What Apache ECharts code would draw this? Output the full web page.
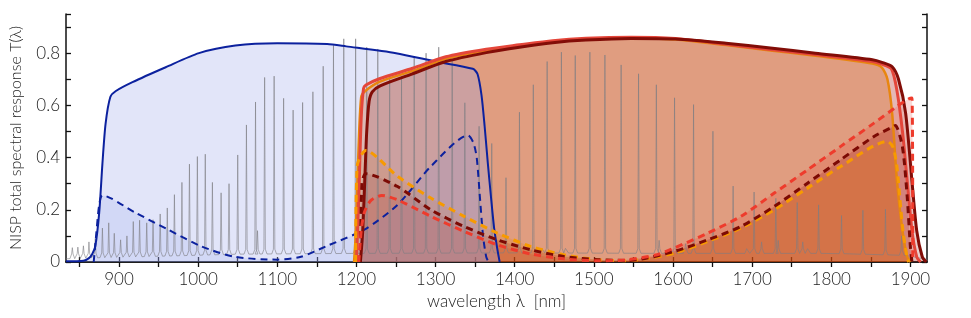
<!DOCTYPE html>
<html>
<head>
<meta charset="utf-8">
<script src="https://cdn.jsdelivr.net/npm/echarts@6/dist/echarts.min.js"></script>
<style>
html,body{margin:0;padding:0;background:#fff;}
#chart{width:971px;height:318px;}
</style>
</head>
<body>
<div id="chart"></div>
<script>
// ---- axis ticks / labels ----
const xLabels = [900, 1000, 1100, 1200, 1300, 1400, 1500, 1600, 1700, 1800, 1900];
const xTicks = [850, 900, 950, 1000, 1050, 1100, 1150, 1200, 1250, 1300, 1350, 1400, 1450, 1500, 1550, 1600, 1650, 1700, 1750, 1800, 1850, 1900];

// ---- blue grism: first order (solid) and second order (dashed) ----
const blueSolid = [[833,0.003],[855,0.005],[862,0.015],[866,0.03],[870,0.06],[875,0.19],[879,0.376],[883,0.529],[889,0.632],[896,0.655],[917,0.689],[959,0.746],[1001,0.80],[1047,0.829],[1100,0.838],[1163,0.835],[1187,0.826],[1250,0.80],[1300,0.768],[1347,0.74],[1353,0.72],[1358,0.64],[1362,0.52],[1366,0.38],[1370,0.25],[1374,0.13],[1378,0.05],[1381,0]];
const blueDash = [[868,0],[871,0.1],[875,0.22],[879,0.255],[920,0.19],[962,0.124],[1004,0.06],[1046,0.02],[1100,0.009],[1130,0.02],[1163,0.062],[1210,0.124],[1252,0.219],[1294,0.366],[1341,0.485],[1348,0.455],[1352,0.40],[1356,0.25],[1360,0.1],[1364,0.02],[1367,0]];

// ---- red grisms: solid ----
const redSolid = [[1200,0],[1203,0.25],[1206,0.55],[1209,0.665],[1212,0.678],[1229,0.702],[1271,0.742],[1313,0.786],[1364,0.815],[1406,0.832],[1448,0.848],[1490,0.857],[1547,0.861],[1603,0.856],[1667,0.834],[1723,0.814],[1780,0.795],[1852,0.768],[1864,0.758],[1876,0.74],[1883,0.657],[1890,0.5],[1896,0.31],[1902,0.12],[1908,0.02],[1913,0]];
const orangeSolid = [[1197,0],[1199,0.1],[1202,0.376],[1206,0.632],[1212,0.657],[1229,0.69],[1271,0.732],[1313,0.778],[1364,0.81],[1406,0.828],[1448,0.845],[1490,0.854],[1547,0.858],[1603,0.852],[1667,0.831],[1723,0.81],[1780,0.79],[1852,0.76],[1864,0.745],[1871,0.70],[1877,0.568],[1883,0.31],[1890,0.12],[1896,0.02],[1900,0]];
const darkRedSolid = [[1205,0],[1208,0.12],[1211,0.35],[1213,0.5],[1216,0.615],[1220,0.652],[1230,0.675],[1270,0.72],[1313,0.768],[1364,0.802],[1406,0.823],[1448,0.84],[1490,0.85],[1547,0.856],[1603,0.854],[1667,0.838],[1723,0.82],[1780,0.80],[1852,0.775],[1864,0.765],[1877,0.748],[1885,0.70],[1894,0.57],[1902,0.31],[1908,0.12],[1915,0.02],[1920,0]];

// ---- red grisms: dashed ----
const orangeDash = [[1199,0],[1201,0.37],[1212,0.427],[1252,0.328],[1294,0.245],[1336,0.175],[1378,0.111],[1420,0.06],[1462,0.028],[1504,0.009],[1540,0.005],[1570,0.015],[1602,0.034],[1644,0.079],[1686,0.13],[1728,0.2],[1770,0.283],[1812,0.366],[1871,0.462],[1878,0.44],[1883,0.366],[1888,0.2],[1891,0.111],[1896,0.015],[1898,0]];
const darkRedDash = [[1205,0],[1207,0.3],[1212,0.338],[1252,0.289],[1294,0.2],[1336,0.136],[1378,0.085],[1420,0.047],[1462,0.021],[1505,0.009],[1545,0.006],[1602,0.041],[1644,0.085],[1686,0.136],[1728,0.213],[1770,0.302],[1812,0.392],[1854,0.481],[1876,0.515],[1881,0.523],[1890,0.44],[1896,0.249],[1900,0.058],[1902,0]];
const redDash = [[1203,0],[1206,0.12],[1210,0.19],[1218,0.235],[1232,0.255],[1252,0.238],[1294,0.175],[1336,0.117],[1378,0.066],[1420,0.031],[1462,0.012],[1505,0.005],[1540,0.008],[1580,0.028],[1602,0.054],[1644,0.111],[1686,0.175],[1728,0.264],[1770,0.353],[1812,0.443],[1854,0.532],[1883,0.596],[1898,0.625],[1902,0.628],[1903,0]];

// ---- grey emission-line spectrum ----
const peakWl = [841,848,855,862,870,879,887,894,902,910,918,926,935,943,952,961,970,979.5,989,999,1009,1018,1029,1039,1050,1061,1072.5,1075,1084,1096,1108,1120,1132,1145,1158,1171,1184,1199,1213,1227,1242,1257,1273,1288,1304,1321,1337,1355,1371,1389,1406,1423.5,1435,1441,1459,1465,1476.5,1495,1514,1534.5,1556.5,1579,1582.5,1602,1616,1626,1650.5,1676,1694,1702.5,1712,1730,1733,1757,1764,1771,1784,1813,1840,1868.5,1889];
const peakVal = [0.055,0.057,0.062,0.077,0.09,0.13,0.15,0.11,0.085,0.10,0.155,0.16,0.15,0.162,0.184,0.207,0.258,0.305,0.375,0.404,0.413,0.305,0.265,0.30,0.41,0.525,0.613,0.12,0.707,0.712,0.627,0.582,0.611,0.652,0.75,0.83,0.855,0.855,0.823,0.816,0.714,0.71,0.786,0.80,0.823,0.773,0.61,0.52,0.454,0.323,0.574,0.679,0.06,0.768,0.804,0.058,0.791,0.804,0.793,0.755,0.721,0.679,0.083,0.629,0.07,0.603,0.501,0.291,0.051,0.268,0.077,0.244,0.083,0.228,0.077,0.051,0.219,0.178,0.198,0.202,0.10];
const baseWl = [833, 870, 950, 1050, 1200, 1400, 1600, 1800, 1900, 1921];
const baseVal = [0.012, 0.016, 0.022, 0.03, 0.033, 0.035, 0.033, 0.033, 0.025, 0.01];

function baseAt(w) {
  for (let i = 0; i < baseWl.length - 1; i++) {
    if (w <= baseWl[i + 1]) {
      const t = (w - baseWl[i]) / (baseWl[i + 1] - baseWl[i]);
      return baseVal[i] + t * (baseVal[i + 1] - baseVal[i]);
    }
  }
  return baseVal[baseVal.length - 1];
}
const greyData = [[833, baseVal[0]]];
peakWl.forEach((p, i) => {
  const b = baseAt(p), h = peakVal[i];
  greyData.push([p - 3, b], [p - 0.9, b + 0.018], [p, h], [p + 0.9, b + 0.018], [p + 3, b]);
});
greyData.push([1921, baseVal[baseVal.length - 1]]);

const X_MIN = 833, X_MAX = 1921;
const SMOOTH = 0.25;

function fill(data, color, z) {
  return { type: 'line', data: data, showSymbol: false, silent: true, z: z,
    smooth: SMOOTH,
    lineStyle: { width: 0 }, areaStyle: { color: color, opacity: 1 } };
}
function line(data, color, width, dashed, z) {
  return { type: 'line', data: data, showSymbol: false, silent: true, z: z,
    smooth: SMOOTH,
    lineStyle: { color: color, width: width, type: dashed ? [7, 5] : 'solid', cap: 'butt', join: 'round' } };
}

const fontFam = 'Lato, "Liberation Sans", Roboto, sans-serif';
const chart = echarts.init(document.getElementById('chart'), null, { renderer: 'canvas' });
chart.setOption({
  animation: false,
  backgroundColor: '#fff',
  grid: { left: 64, right: 44, top: 14, bottom: 56 },
  xAxis: [{
    type: 'value', min: X_MIN, max: X_MAX, position: 'bottom',
    name: 'wavelength λ  [nm]', nameLocation: 'middle', nameGap: 29,
    nameTextStyle: { fontSize: 17, color: '#222', fontFamily: fontFam, fontWeight: 300 },
    axisLine: { show: true, lineStyle: { color: '#111', width: 1.5 } },
    axisTick: { show: true, inside: true, length: 5, customValues: xTicks, lineStyle: { color: '#111', width: 1.3 } },
    axisLabel: { customValues: xLabels, fontSize: 17, color: '#222', margin: 9, fontFamily: fontFam, fontWeight: 300,
      formatter: v => String(Math.round(v)) },
    splitLine: { show: false }
  }, {
    type: 'value', min: X_MIN, max: X_MAX, position: 'top',
    axisLine: { show: true, lineStyle: { color: '#111', width: 1.5 } },
    axisTick: { show: true, inside: true, length: 5, customValues: xTicks, lineStyle: { color: '#111', width: 1.3 } },
    axisLabel: { show: false }, splitLine: { show: false }
  }],
  yAxis: [{
    type: 'value', min: 0, max: 0.95, interval: 0.1, position: 'left',
    name: 'NISP total spectral response T(λ)', nameLocation: 'middle', nameGap: 42,
    nameTextStyle: { fontSize: 16, color: '#222', fontFamily: fontFam, fontWeight: 300 },
    axisLine: { show: true, lineStyle: { color: '#111', width: 1.5 } },
    axisTick: { show: true, inside: true, length: 5, lineStyle: { color: '#111', width: 1.3 } },
    axisLabel: { fontSize: 17, color: '#222', margin: 6, fontFamily: fontFam, fontWeight: 300,
      formatter: v => {
        const k = Math.round(v * 10);
        if (Math.abs(v * 10 - k) > 1e-6 || k % 2 !== 0 || k > 8) return '';
        return k === 0 ? '0' : (k / 10).toFixed(1);
      } },
    splitLine: { show: false }
  }, {
    type: 'value', min: 0, max: 0.95, interval: 0.1, position: 'right',
    axisLine: { show: true, lineStyle: { color: '#111', width: 1.5 } },
    axisTick: { show: true, inside: true, length: 5, lineStyle: { color: '#111', width: 1.3 } },
    axisLabel: { show: false }, splitLine: { show: false }
  }],
  series: [
    fill(orangeSolid, 'rgba(232,125,0,0.3)', 1),
    fill(redSolid, 'rgba(232,64,48,0.15)', 1),
    fill(darkRedSolid, 'rgba(138,15,10,0.2)', 1),
    fill(redDash, 'rgba(232,64,48,0.2)', 1),
    fill(darkRedDash, 'rgba(138,15,10,0.2)', 1),
    fill(orangeDash, 'rgba(232,125,0,0.2)', 1),
    fill(blueSolid, 'rgba(160,170,235,0.3)', 1),
    fill(blueDash, 'rgba(120,140,225,0.15)', 1),
    { type: 'line', data: greyData, showSymbol: false, silent: true, z: 2,
      lineStyle: { color: 'rgba(125,125,130,0.6)', width: 1 } },
    line(blueSolid, '#0c219e', 2, false, 3),
    line(blueDash, '#0c219e', 2, true, 3),
    line(orangeSolid, '#e8860f', 2.5, false, 3),
    line(redSolid, '#e4463a', 3, false, 3),
    line(darkRedSolid, '#820d07', 3, false, 3),
    line(orangeDash, '#f79a00', 3, true, 4),
    line(darkRedDash, '#7c0a04', 3, true, 4),
    line(redDash, '#ee3b2c', 3, true, 4)
  ]
});
</script>
</body>
</html>
